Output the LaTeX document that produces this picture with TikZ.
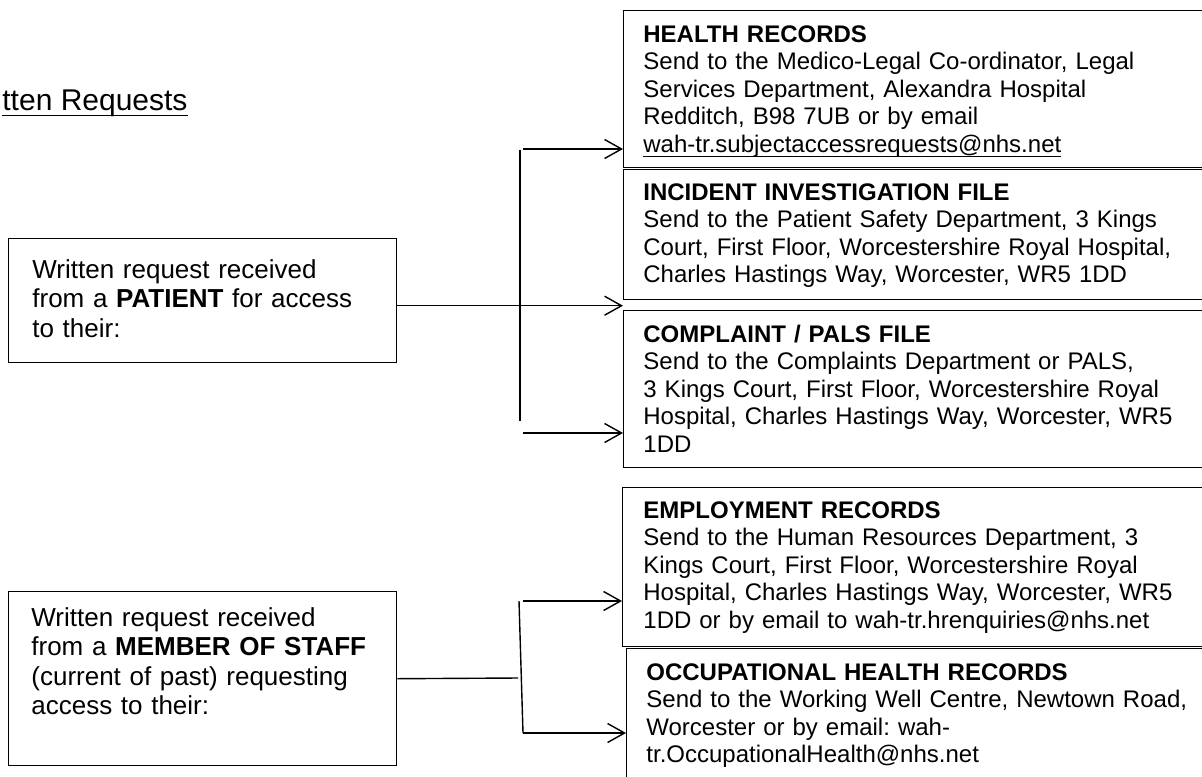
\documentclass[tikz,border=0pt]{standalone}
\usepackage{fontspec}
\setmainfont{Liberation Sans}
\usetikzlibrary{arrows.meta}

% underline set close to the baseline, descenders cross it
\newsavebox\undlbox
\newcommand\undl[1]{\leavevmode\sbox\undlbox{#1}\rlap{\rule[-0.2em]{\wd\undlbox}{0.05em}}\usebox\undlbox}

\tikzset{
  reqbox/.style={draw, line width=0.7pt, anchor=north west, inner sep=0pt, minimum width=194pt},
  reqtext/.style={anchor=base west, inner sep=0pt, text width=180pt, align=left, font=\fontsize{13}{14.75}\selectfont},
  recbox/.style={draw, line width=0.7pt, anchor=north west, inner sep=0pt, minimum width=320pt},
  rectext/.style={anchor=base west, inner sep=0pt, text width=300pt, align=left, font=\fontsize{12}{13.75}\selectfont},
  link/.style={line width=0.7pt},
  arr/.style={link, -{Straight Barb[length=8.5pt,width=9.5pt]}},
}

\begin{document}
\frenchspacing
\begin{tikzpicture}[x=0.5pt, y=-0.5pt]
  \useasboundingbox (0,0) rectangle (1202,776);
  \clip (0,0) rectangle (1202,776);
  \fill[white] (0,0) rectangle (1202,776);

  \node[anchor=base west, inner sep=0pt, font=\fontsize{15}{18}\selectfont] (title) at (2,110) {\undl{tten Requests}};

  % requests
  \node[reqbox, minimum height=62pt] (patient) at (8,238) {};
  \node[reqtext] (patienttxt) at (32,278) {Written request received\\
    from a \textbf{PATIENT} for access\\
    to their:};
  \node[reqbox, minimum height=87pt] (staff) at (8,591) {};
  \node[reqtext] (stafftxt) at (31,626) {Written request received\\
    from a \textbf{MEMBER OF STAFF}\\
    (current of past) requesting\\
    access to their:};

  % records
  \node[recbox, minimum height=78.5pt] (health) at (623,10) {};
  \node[rectext] (healthtxt) at (643,42) {\textbf{HEALTH RECORDS}\\
    Send to the Medico-Legal Co-ordinator, Legal\\
    Services Department, Alexandra Hospital\\
    Redditch, B98 7UB or by email\\
    \undl{wah-tr.subjectaccessrequests@nhs.net}};
  \node[recbox, minimum height=65pt] (incident) at (623,169) {};
  \node[rectext] (incidenttxt) at (643,200) {\textbf{INCIDENT INVESTIGATION FILE}\\
    Send to the Patient Safety Department, 3 Kings\\
    Court, First Floor, Worcestershire Royal Hospital,\\
    Charles Hastings Way, Worcester, WR5 1DD};
  \node[recbox, minimum height=78.5pt] (complaint) at (623,310) {};
  \node[rectext] (complainttxt) at (643,342) {\textbf{COMPLAINT / PALS FILE}\\
    Send to the Complaints Department or PALS,\\
    3 Kings Court, First Floor, Worcestershire Royal\\
    Hospital, Charles Hastings Way, Worcester, WR5\\
    1DD};
  \node[recbox, minimum height=79.5pt] (employment) at (622,487) {};
  \node[rectext] (employmenttxt) at (643,518) {\textbf{EMPLOYMENT RECORDS}\\
    Send to the Human Resources Department, 3\\
    Kings Court, First Floor, Worcestershire Royal\\
    Hospital, Charles Hastings Way, Worcester, WR5\\
    1DD or by email to wah-tr.hrenquiries@nhs.net};
  \node[recbox, minimum height=80pt] (occupational) at (626,648) {};
  \node[rectext] (occupationaltxt) at (646,680) {\textbf{OCCUPATIONAL HEALTH RECORDS}\\
    Send to the Working Well Centre, Newtown Road,\\
    Worcester or by email: wah-\\
    tr.OccupationalHealth@nhs.net};

  % patient connectors
  \coordinate (pbus1) at (520,150);
  \coordinate (pbus2) at (520,421);
  \coordinate (phealth) at (523,149);
  \coordinate (pcomplaint) at (523,433);
  \draw[link] (pbus1) -- (pbus2);
  \draw[arr] (phealth) -- (phealth -| health.west);
  \draw[arr] ([yshift=-2.5pt]patient.east) -- ([yshift=-2.5pt]patient.east -| incident.west);
  \draw[arr] (pcomplaint) -- (pcomplaint -| complaint.west);

  % staff connectors
  \coordinate (sbus1) at (519,601);
  \coordinate (sbus2) at (523,733);
  \coordinate (sjoin) at (518,678);
  \draw[link] (staff.east) -- (sjoin);
  \draw[link] (sbus1) -- (sbus2);
  \draw[arr] (sbus1 -| sbus2) -- (sbus1 -| employment.west);
  \draw[arr] (sbus2) -- (sbus2 -| occupational.west);
\end{tikzpicture}
\end{document}
